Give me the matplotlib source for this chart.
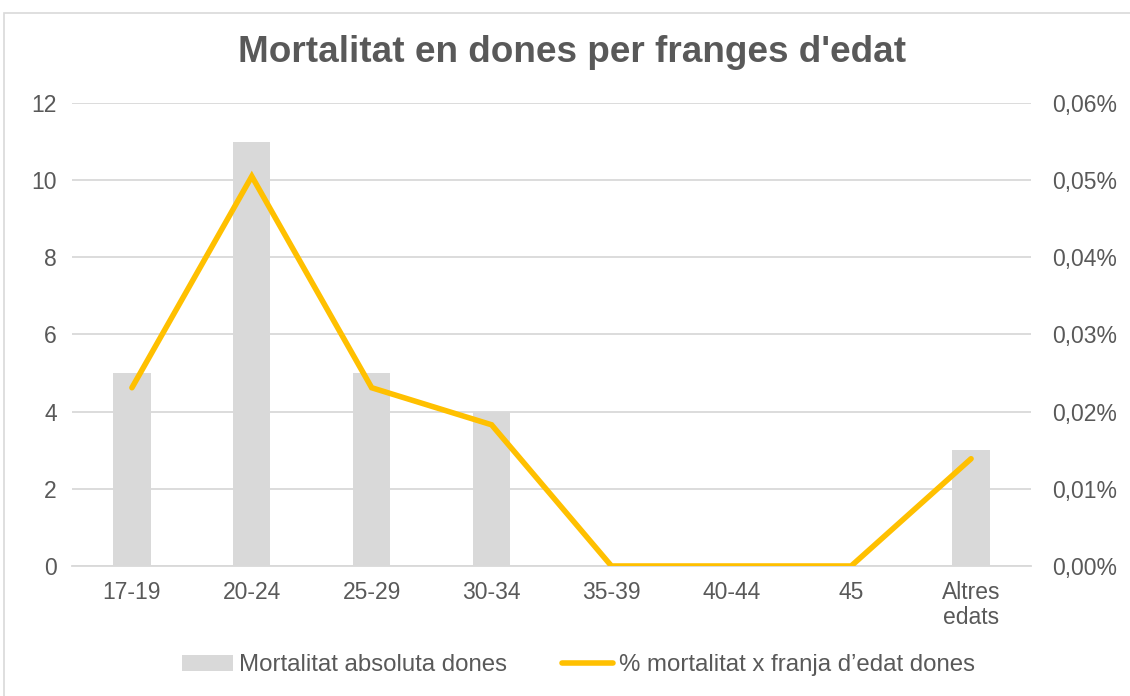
import matplotlib
matplotlib.use("Agg")
import matplotlib.pyplot as plt
from matplotlib.ticker import FuncFormatter
from matplotlib.patches import Rectangle

categories = ["17-19", "20-24", "25-29", "30-34", "35-39", "40-44", "45", "Altres\nedats"]
absolute_deaths = [5, 11, 5, 4, 0, 0, 0, 3]
pct_deaths = [0.0231, 0.0505, 0.0231, 0.0183, 0.0, 0.0, 0.0, 0.0139]

plt.rcParams['font.family'] = ['Liberation Sans', 'DejaVu Sans']
txt = '#595959'
grid = '#d9d9d9'
fs = 16.5

fig = plt.figure(figsize=(11.3, 6.96), dpi=100)
fig.patches.append(Rectangle((4/1130, -0.1), 1.2, 1 - 13/696 + 0.1, transform=fig.transFigure,
                             fill=False, edgecolor='#d9d9d9', linewidth=1.2))
ax = fig.add_axes([0.0637, 0.1868, 0.8487, 0.6652])
x = list(range(len(categories)))
bars = ax.bar(x, absolute_deaths, width=0.31, color='#d9d9d9', zorder=2,
              label='Mortalitat absoluta dones')
ax.set_xlim(-0.5, len(categories) - 0.5)
ax.set_ylim(0, 12)
ax.set_yticks(range(0, 13, 2))
ax.yaxis.grid(True, color=grid, linewidth=1.3, zorder=0)
ax.set_axisbelow(True)
for s in ['top', 'right', 'left']:
    ax.spines[s].set_visible(False)
ax.spines['bottom'].set_color(grid)
ax.spines['bottom'].set_linewidth(1.3)
ax.set_xticks(x)
ax.set_xticklabels(categories, linespacing=1.1)
ax.tick_params(axis='both', length=0, colors=txt, labelsize=fs)
ax.tick_params(axis='x', pad=11)
ax.tick_params(axis='y', pad=11)

ax2 = ax.twinx()
line, = ax2.plot(x, pct_deaths, color='#ffc000', linewidth=4, solid_capstyle='round',
                 solid_joinstyle='miter', zorder=3, label="% mortalitat x franja d\u2019edat dones")
ax2.set_ylim(0, 0.06)
ax2.set_yticks([0, 0.01, 0.02, 0.03, 0.04, 0.05, 0.06])
ax2.yaxis.set_major_formatter(FuncFormatter(lambda v, p: f"{v:.2f}%".replace('.', ',')))
for s in ['top', 'right', 'left', 'bottom']:
    ax2.spines[s].set_visible(False)
ax2.tick_params(axis='y', length=0, colors=txt, labelsize=fs, pad=15)

fig.text(0.506, 0.925, "Mortalitat en dones per franges d'edat", ha='center', va='center',
         fontsize=26.6, fontweight='bold', color=txt)

fig.legend([bars, line], ['Mortalitat absoluta dones', "% mortalitat x franja d\u2019edat dones"],
           loc='center', bbox_to_anchor=(0.512, 0.044), ncol=2, frameon=False,
           fontsize=17.3, labelcolor=txt, handlelength=2.1, columnspacing=2.3, handletextpad=0.25)

fig.savefig('out.png', dpi=100)
